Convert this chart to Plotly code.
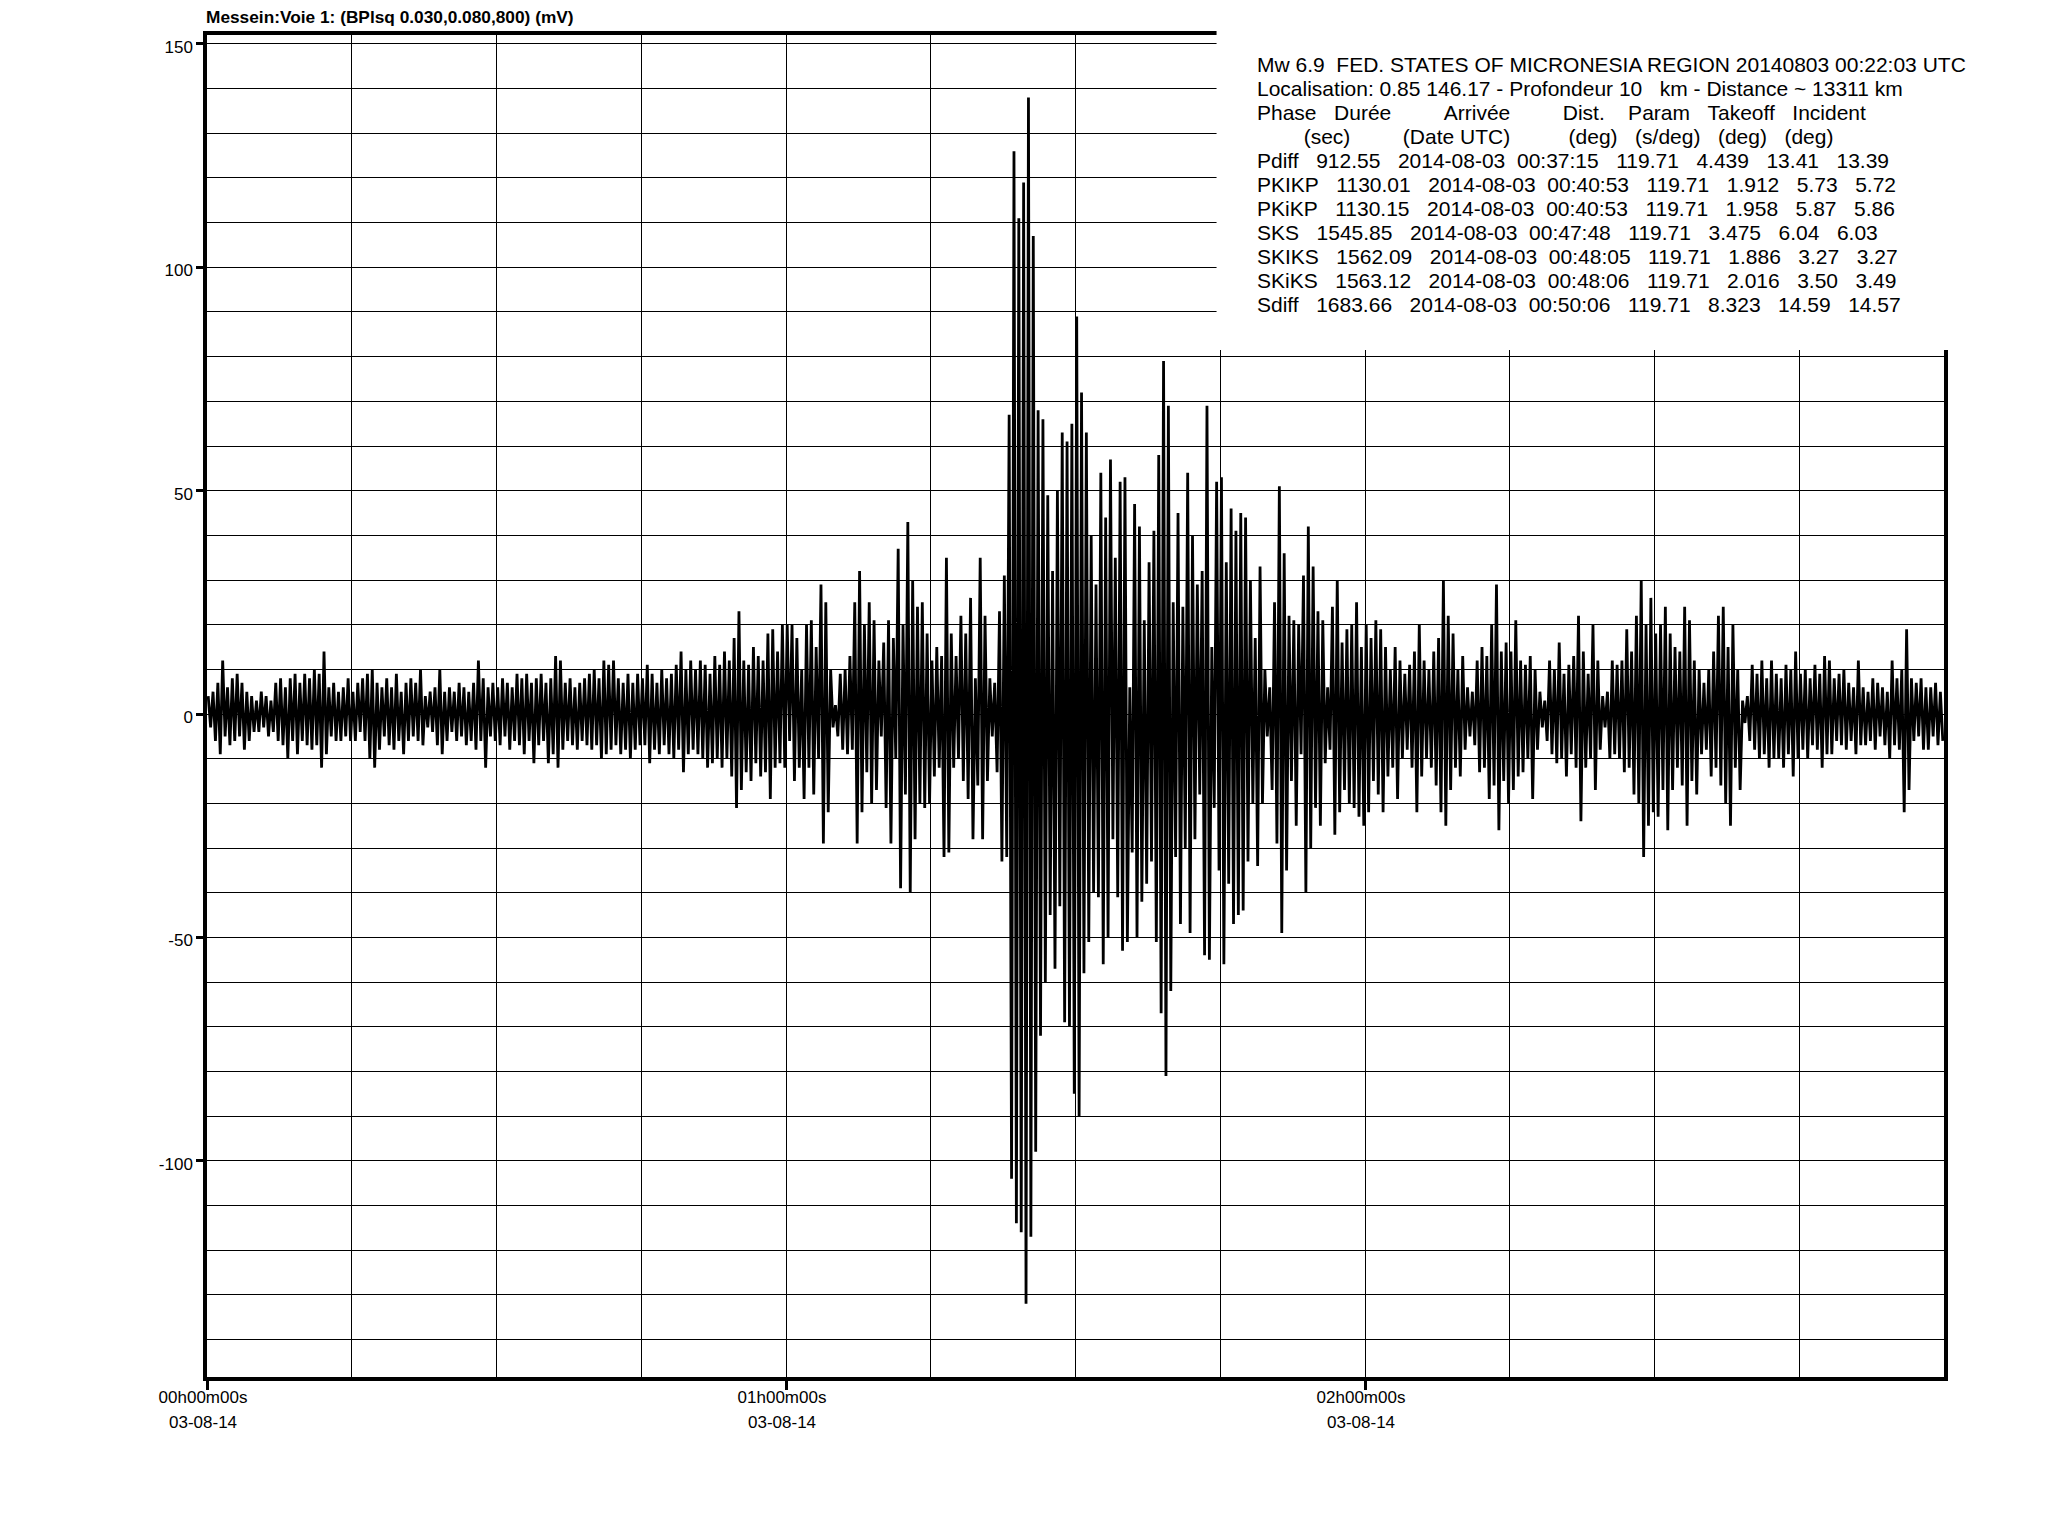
import numpy as np
import plotly.graph_objects as go

# ---------------- data ----------------
# trace extremes, one value every 15 s, grouped per quarter hour (mV)
q01 = [4,-3,5,-6,7,-9,12,-5,6,-7,8,-6,9,-5,7,-8,5,-6,4,-4,3,-4,5,-3,4,-5,3,-4,7,-6,
       8,-7,6,-10,8,-6,9,-9,7,-6,9,-7,8,-8,10,-7,9,-12,14,-9,6,-5,7,-6,5,-6,6,-5,8,-6]
q02 = [5,-6,7,-4,8,-6,9,-10,10,-12,7,-8,6,-5,8,-7,6,-8,9,-6,5,-9,7,-6,8,-5,7,-6,10,-7,
       4,-3,5,-4,6,-7,10,-9,5,-6,6,-4,5,-6,7,-5,6,-7,5,-6,7,-8,12,-6,8,-12,6,-5,7,-6]
q03 = [6,-7,8,-5,7,-8,6,-6,9,-7,8,-9,9,-6,7,-11,8,-7,9,-6,7,-11,8,-9,13,-12,12,-8,7,-6,
       8,-7,6,-8,7,-6,8,-7,9,-8,10,-7,8,-10,12,-9,11,-8,12,-7,8,-9,7,-8,9,-10,7,-8,9,-7]
q04 = [8,-7,11,-11,9,-8,7,-9,10,-7,8,-9,9,-10,11,-8,14,-13,10,-9,12,-8,10,-9,12,-10,11,-12,9,-11,
       13,-10,11,-12,14,-10,12,-14,17,-21,23,-17,12,-13,11,-15,15,-11,13,-14,12,-13,18,-19,19,-12,14,-11,20,-12]
q05 = [20,-6,20,-15,17,-12,10,-19,20,-12,21,-18,15,-10,29,-29,25,-22,10,-3,2,-5,9,-8,10,-9,13,-8,25,-29,
       32,-22,20,-13,25,-20,21,-17,12,-5,16,-21,21,-29,17,-10,37,-39,20,-18,43,-40,30,-28,24,-20,25,-21,18,-20]
q06 = [12,-14,15,-12,13,-32,35,-31,18,-12,13,-10,22,-15,18,-19,26,-28,8,-16,35,-28,22,-15,8,-5,7,-13,23,-33,
       31,-32,67,-104,126,-114,111,-116,119,-132,138,-117,107,-98,68,-72,66,-60,49,-45,32,-57,50,-43,63,-69,61,-70,65,-85]
q07 = [89,-90,72,-58,63,-51,40,-40,29,-41,54,-56,44,-50,57,-28,35,-41,52,-53,53,-51,6,-31,47,-50,42,-42,21,-38,
       34,-33,41,-51,58,-67,79,-81,69,-62,25,-32,45,-47,24,-30,54,-49,40,-28,29,-18,32,-54,69,-55,15,-21,52,-35]
q08 = [53,-56,34,-38,46,-47,41,-45,45,-44,44,-33,30,-20,17,-34,33,-20,10,-5,6,-17,25,-29,51,-49,36,-35,22,-15,
       21,-25,20,-9,31,-40,42,-30,33,-21,23,-25,21,-11,6,-8,24,-27,30,-22,16,-17,19,-20,20,-21,25,-23,15,-25]
q09 = [20,-22,17,-15,21,-18,19,-22,15,-14,10,-12,15,-19,12,-10,9,-8,11,-12,14,-22,20,-14,12,-10,10,-12,14,-16,
       17,-22,30,-25,22,-17,18,-12,10,-14,13,-8,6,-5,5,-7,12,-13,15,-12,13,-19,20,-16,29,-26,14,-15,16,-20]
q10 = [14,-17,21,-14,12,-13,11,-10,13,-19,10,-8,5,-3,3,-6,12,-9,10,-11,16,-10,9,-14,11,-9,13,-12,22,-24,
       14,-12,9,-10,20,-17,12,-8,4,-3,5,-10,12,-9,11,-10,12,-13,19,-12,14,-18,22,-20,30,-32,20,-25,26,-22]
q11 = [18,-23,20,-17,24,-26,18,-17,15,-12,14,-16,24,-25,21,-15,12,-18,10,-9,7,-8,10,-14,14,-12,22,-16,24,-20,
       15,-25,20,-12,10,-17,3,-2,4,-6,11,-8,9,-10,12,-9,8,-12,12,-10,9,-10,8,-12,11,-9,10,-14,14,-10]
q12 = [9,-8,10,-10,8,-7,11,-8,9,-12,13,-9,12,-9,8,-6,9,-7,10,-8,7,-6,6,-9,12,-7,6,-7,5,-6,
       8,-8,7,-5,6,-7,5,-10,12,-7,8,-8,10,-22,19,-17,8,-6,7,-5,8,-8,6,-8,6,-5,7,-7,5,-6]

sample_step_s = 15          # seconds between successive extremes
x_range_s = [0, 10800]      # 00h00m00s .. 03h00m00s
y_range_mv = [-148.4, 152.0]
x_tick_values = [0, 3600, 7200]
x_tick_labels = ["00h00m00s", "01h00m00s", "02h00m00s"]
date_label = "03-08-14"
y_tick_values = [-100, -50, 0, 50, 100, 150]
box_start_s = 6277          # left edge of the white info box (time)
box_bottom_mv = 81.5        # bottom edge of the white info box (mV)

title_text = "Messein:Voie 1: (BPlsq 0.030,0.080,800) (mV)"
S = "\u00a0"
info_lines = [
    "Mw 6.9" + S + " FED. STATES OF MICRONESIA REGION 20140803 00:22:03 UTC",
    "Localisation: 0.85 146.17 - Profondeur 10" + S * 2 + " km - Distance ~ 13311 km",
    "Phase" + S * 3 + "Durée" + S * 9 + "Arrivée" + S * 9 + "Dist." + S * 4 + "Param" + S * 3 + "Takeoff" + S * 3 + "Incident",
    S * 8 + "(sec)" + S * 9 + "(Date UTC)" + S * 10 + "(deg)" + S * 3 + "(s/deg)" + S * 3 + "(deg)" + S * 3 + "(deg)",
    "Pdiff" + S * 3 + "912.55" + S * 3 + "2014-08-03" + S * 2 + "00:37:15" + S * 3 + "119.71" + S * 3 + "4.439" + S * 3 + "13.41" + S * 3 + "13.39",
    "PKIKP" + S * 3 + "1130.01" + S * 3 + "2014-08-03" + S * 2 + "00:40:53" + S * 3 + "119.71" + S * 3 + "1.912" + S * 3 + "5.73" + S * 3 + "5.72",
    "PKiKP" + S * 3 + "1130.15" + S * 3 + "2014-08-03" + S * 2 + "00:40:53" + S * 3 + "119.71" + S * 3 + "1.958" + S * 3 + "5.87" + S * 3 + "5.86",
    "SKS" + S * 3 + "1545.85" + S * 3 + "2014-08-03" + S * 2 + "00:47:48" + S * 3 + "119.71" + S * 3 + "3.475" + S * 3 + "6.04" + S * 3 + "6.03",
    "SKIKS" + S * 3 + "1562.09" + S * 3 + "2014-08-03" + S * 2 + "00:48:05" + S * 3 + "119.71" + S * 3 + "1.886" + S * 3 + "3.27" + S * 3 + "3.27",
    "SKiKS" + S * 3 + "1563.12" + S * 3 + "2014-08-03" + S * 2 + "00:48:06" + S * 3 + "119.71" + S * 3 + "2.016" + S * 3 + "3.50" + S * 3 + "3.49",
    "Sdiff" + S * 3 + "1683.66" + S * 3 + "2014-08-03" + S * 2 + "00:50:06" + S * 3 + "119.71" + S * 3 + "8.323" + S * 3 + "14.59" + S * 3 + "14.57",
]

# ---------------- figure ----------------
amp = np.array(q01 + q02 + q03 + q04 + q05 + q06 + q07 + q08 + q09 + q10 + q11 + q12, dtype=float)
t = sample_step_s / 2 + sample_step_s * np.arange(len(amp))

BODY = 8                      # default page margin of the html body
W, H = 2048 - BODY, 1533 - BODY
ML, MR, MT, MB = 199, 104, 27, 156
plot_w = W - ML - MR
plot_h = H - MT - MB
FONT = "Liberation Sans, Arial, sans-serif"

fig = go.Figure()
fig.add_trace(go.Scatter(x=t, y=amp, mode="lines",
                         line=dict(color="black", width=2.8, simplify=False),
                         hoverinfo="skip", showlegend=False))

axis_common = dict(showline=True, linecolor="black", linewidth=3.5, mirror=True,
                   showgrid=True, gridcolor="black", gridwidth=1, zeroline=False,
                   ticks="outside", tickcolor="black", tickwidth=3,
                   tickfont=dict(family=FONT, size=17, color="black"))

fig.update_xaxes(range=x_range_s, tickmode="array", tickvals=x_tick_values,
                 ticktext=x_tick_labels, ticklen=9, ticklabelstandoff=-7,
                 ticklabelshift=-4,
                 minor=dict(tickmode="linear", tick0=0, dtick=900, showgrid=True,
                            gridcolor="black", gridwidth=1, ticks=""),
                 **axis_common)
fig.update_yaxes(range=y_range_mv, tickmode="array", tickvals=y_tick_values,
                 ticktext=[str(v) for v in y_tick_values], ticklen=7,
                 ticklabelshift=3,
                 minor=dict(tickmode="linear", tick0=0, dtick=10, showgrid=True,
                            gridcolor="black", gridwidth=1, ticks=""),
                 **axis_common)

# white box holding the event information (hides grid/frame in top-right corner)
bx0 = (box_start_s - x_range_s[0]) / (x_range_s[1] - x_range_s[0])
by0 = (box_bottom_mv - y_range_mv[0]) / (y_range_mv[1] - y_range_mv[0])
fig.add_shape(type="rect", xref="x domain", yref="y domain",
              x0=bx0, x1=1.2, y0=by0, y1=1.2,
              fillcolor="white", line=dict(width=0), layer="above")

annotations = []
# title
annotations.append(dict(text="<b>" + title_text + "</b>", xref="paper", yref="paper",
                        x=0, y=1, xanchor="left", yanchor="middle", yshift=18, xshift=-3,
                        showarrow=False, font=dict(family=FONT, size=17.3, color="black")))
# date under hour labels
for xv in x_tick_values:
    annotations.append(dict(text=date_label, xref="x", yref="paper", x=xv, y=0,
                            xanchor="center", yanchor="middle", yshift=-45, xshift=-4,
                            showarrow=False, font=dict(family=FONT, size=17, color="black")))
# info text lines (page pixel positions converted to figure coordinates)
text_left_px = 1255 - BODY
first_line_px = 64 - BODY
line_step_px = 24.0
for i, line in enumerate(info_lines):
    ypx = first_line_px + i * line_step_px
    annotations.append(dict(text=line, xref="paper", yref="paper",
                            x=(text_left_px - ML) / plot_w, y=1,
                            xanchor="left", yanchor="middle",
                            yshift=-(ypx - MT), showarrow=False,
                            font=dict(family=FONT, size=21.0, color="black")))

fig.update_layout(width=W, height=H, margin=dict(l=ML, r=MR, t=MT, b=MB, pad=0),
                  paper_bgcolor="white", plot_bgcolor="white",
                  annotations=annotations, showlegend=False)

fig.write_html("out.html")
